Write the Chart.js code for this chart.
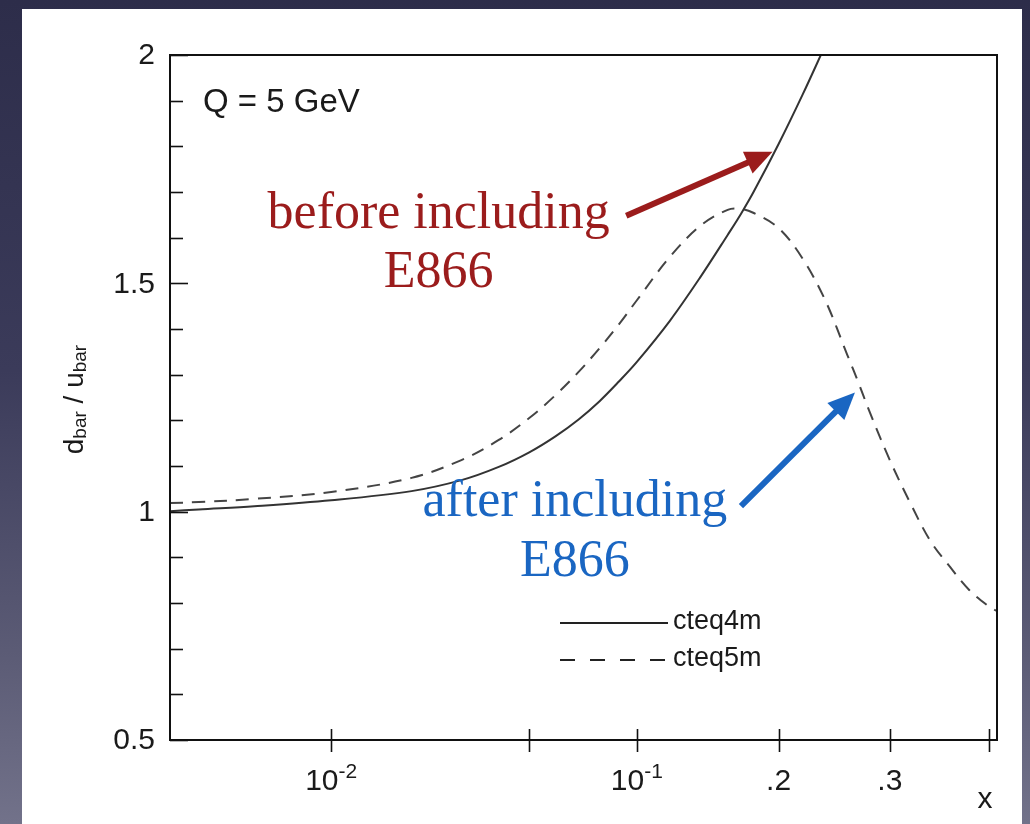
<!DOCTYPE html>
<html>
<head>
<meta charset="utf-8">
<script src="https://cdn.jsdelivr.net/npm/chart.js@4/dist/chart.umd.min.js"></script>
<style>
  html, body { margin: 0; padding: 0; }
  body {
    width: 1030px; height: 824px; overflow: hidden; position: relative;
    background: linear-gradient(180deg, #2d2d4a 0%, #3b3b5a 45%, #5c5c76 80%, #72728a 100%);
  }
  #panel { position: absolute; left: 22px; top: 9px; width: 1000px; height: 815px; background: #fff; }
  canvas { display: block; }
</style>
</head>
<body>
<div id="panel"><canvas id="ratio" width="1000" height="815"></canvas></div>
<script>
// d-bar / u-bar at Q = 5 GeV, two CTEQ fits
const x4m = [0.0023, 0.003, 0.005, 0.01, 0.02, 0.03, 0.04, 0.05, 0.06, 0.07, 0.08, 0.09, 0.1,
             0.12, 0.14, 0.16, 0.17, 0.18, 0.2, 0.22, 0.24];
const cteq4m = [1.001, 1.005, 1.012, 1.025, 1.045, 1.069, 1.098, 1.130, 1.165, 1.202, 1.242, 1.285, 1.328,
                1.418, 1.512, 1.606, 1.652, 1.701, 1.805, 1.912, 2.021];

const x5m = [0.0023, 0.003, 0.005, 0.01, 0.02, 0.03, 0.04, 0.05, 0.06, 0.07, 0.08, 0.09, 0.1,
             0.12, 0.14, 0.16, 0.17, 0.18, 0.2, 0.22, 0.24, 0.26, 0.27, 0.28, 0.3,
             0.32, 0.34, 0.36, 0.38, 0.4, 0.409];
const cteq5m = [1.019, 1.021, 1.028, 1.043, 1.074, 1.113, 1.157, 1.205, 1.255, 1.306, 1.358, 1.410, 1.463,
                1.558, 1.625, 1.661, 1.663, 1.654, 1.621, 1.555, 1.463, 1.343, 1.284, 1.223, 1.113,
                1.019, 0.936, 0.879, 0.828, 0.793, 0.782];

const xTicks = [0.01, 0.05, 0.1, 0.2, 0.3, 0.4];
const xTickLabels = ['10^-2', '', '10^-1', '.2', '.3', ''];
const yTicks = [0.5, 1, 1.5, 2];
const yTickLabels = ['0.5', '1', '1.5', '2'];

const INK = '#1a1a1a';
const SANS = '"Liberation Sans", Arial, sans-serif';
const SERIF = '"Liberation Serif", "Times New Roman", serif';

// x axis: log at small x, stretching towards linear at large x
const K = 2.79;
function warp(v) { return Math.log10(v) + K * v; }

class LogLinScale extends Chart.Scale {
  static id = 'loglin';
  static defaults = {};
  determineDataLimits() {
    this.min = this.options.min;
    this.max = this.options.max;
  }
  buildTicks() {
    return xTicks.map(v => ({ value: v }));
  }
  configure() {
    super.configure();
    this._w0 = warp(this.min);
    this._wr = warp(this.max) - this._w0;
  }
  getPixelForValue(v) {
    return this.getPixelForDecimal((warp(v) - this._w0) / this._wr);
  }
  getValueForPixel(p) {
    const d = this.getDecimalForPixel(p);
    let lo = this.min, hi = this.max;
    for (let i = 0; i < 50; i++) {
      const mid = (lo + hi) / 2;
      if ((warp(mid) - this._w0) / this._wr < d) lo = mid; else hi = mid;
    }
    return lo;
  }
  getLabelForValue(v) { return String(v); }
}
Chart.register(LogLinScale);

function pairs(xs, ys) { return xs.map((x, i) => ({ x: x, y: ys[i] })); }

// text and arrows, placed in data coordinates
const notes = [
  { text: 'before including', x: 0.025, y: 1.622, color: '#9b1c1c' },
  { text: 'E866', x: 0.025, y: 1.493, color: '#9b1c1c' },
  { text: 'after including', x: 0.0683, y: 0.99, color: '#1a66c2' },
  { text: 'E866', x: 0.0683, y: 0.859, color: '#1a66c2' }
];
const arrows = [
  { from: [0.094, 1.648], to: [0.195, 1.788], color: '#9b1c1c' },
  { from: [0.17, 1.012], to: [0.267, 1.261], color: '#1a66c2' }
];

function drawArrow(ctx, x0, y0, x1, y1, color) {
  const ang = Math.atan2(y1 - y0, x1 - x0);
  const headLen = 27, headHalf = 12;
  const bx = x1 - headLen * Math.cos(ang), by = y1 - headLen * Math.sin(ang);
  ctx.strokeStyle = color;
  ctx.fillStyle = color;
  ctx.lineWidth = 6;
  ctx.lineCap = 'butt';
  ctx.beginPath();
  ctx.moveTo(x0, y0);
  ctx.lineTo(bx + 2 * Math.cos(ang), by + 2 * Math.sin(ang));
  ctx.stroke();
  ctx.beginPath();
  ctx.moveTo(x1, y1);
  ctx.lineTo(bx + headHalf * Math.sin(ang), by - headHalf * Math.cos(ang));
  ctx.lineTo(bx - headHalf * Math.sin(ang), by + headHalf * Math.cos(ang));
  ctx.closePath();
  ctx.fill();
}

// frame, inward ticks, labels, legend and notes
const decorations = {
  id: 'decorations',
  afterDatasetsDraw(chart) {
    const { ctx, chartArea: a, scales: { x, y } } = chart;
    ctx.save();

    ctx.strokeStyle = '#111';
    ctx.lineWidth = 2;
    ctx.strokeRect(a.left, a.top, a.right - a.left, a.bottom - a.top);

    // y ticks every 0.1, longer on the half units
    ctx.lineWidth = 1.6;
    for (let i = 0; i <= 15; i++) {
      const py = Math.round(y.getPixelForValue(0.5 + i * 0.1)) + 0.5;
      const len = i % 5 === 0 ? 18 : 13;
      ctx.beginPath();
      ctx.moveTo(a.left, py);
      ctx.lineTo(a.left + len, py);
      ctx.stroke();
    }
    // x ticks straddle the axis
    xTicks.forEach(v => {
      const px = Math.round(x.getPixelForValue(v)) + 0.5;
      ctx.beginPath();
      ctx.moveTo(px, a.bottom - 11);
      ctx.lineTo(px, a.bottom + 12);
      ctx.stroke();
    });

    ctx.fillStyle = INK;
    ctx.font = '30px ' + SANS;
    ctx.textAlign = 'right';
    ctx.textBaseline = 'middle';
    yTicks.forEach((v, i) => {
      ctx.fillText(yTickLabels[i], a.left - 15, y.getPixelForValue(v) + 1);
    });

    ctx.textBaseline = 'alphabetic';
    xTicks.forEach((v, i) => {
      const lab = xTickLabels[i];
      if (!lab) return;
      const px = x.getPixelForValue(v);
      const base = a.bottom + 50;
      const parts = lab.split('^');
      ctx.font = '30px ' + SANS;
      const w0 = ctx.measureText(parts[0]).width;
      let w1 = 0;
      if (parts[1]) { ctx.font = '21px ' + SANS; w1 = ctx.measureText(parts[1]).width; }
      const left = px - (w0 + w1) / 2;
      ctx.textAlign = 'left';
      ctx.font = '30px ' + SANS;
      ctx.fillText(parts[0], left, base);
      if (parts[1]) {
        ctx.font = '21px ' + SANS;
        ctx.fillText(parts[1], left + w0, base - 12);
      }
    });
    ctx.font = '30px ' + SANS;
    ctx.textAlign = 'center';
    ctx.fillText('x', a.right - 12, a.bottom + 68);

    // y title: d_bar / u_bar
    ctx.save();
    ctx.translate(a.left - 95, (a.top + a.bottom) / 2 + 2);
    ctx.rotate(-Math.PI / 2);
    const big = '28px ' + SANS, small = '19px ' + SANS;
    const segs = [['d', big, 0], ['bar', small, 6], [' / ', big, 0], ['u', big, 0], ['bar', small, 6]];
    let total = 0;
    segs.forEach(s => { ctx.font = s[1]; total += ctx.measureText(s[0]).width; });
    let cx = -total / 2;
    ctx.textAlign = 'left';
    ctx.textBaseline = 'middle';
    segs.forEach(s => {
      ctx.font = s[1];
      ctx.fillText(s[0], cx, s[2]);
      cx += ctx.measureText(s[0]).width;
    });
    ctx.restore();

    ctx.font = '33px ' + SANS;
    ctx.textAlign = 'left';
    ctx.textBaseline = 'alphabetic';
    ctx.fillText('Q = 5 GeV', a.left + 33, a.top + 57);

    // legend
    const lx = a.right - 437, ly1 = a.top + 568, ly2 = a.top + 605;
    ctx.strokeStyle = '#222';
    ctx.lineWidth = 2;
    ctx.beginPath(); ctx.moveTo(lx, ly1); ctx.lineTo(lx + 108, ly1); ctx.stroke();
    ctx.setLineDash([15, 15]);
    ctx.beginPath(); ctx.moveTo(lx, ly2); ctx.lineTo(lx + 108, ly2); ctx.stroke();
    ctx.setLineDash([]);
    ctx.font = '27px ' + SANS;
    ctx.textBaseline = 'middle';
    ctx.fillText('cteq4m', lx + 113, ly1 - 1);
    ctx.fillText('cteq5m', lx + 113, ly2 - 1);

    // annotations
    ctx.textAlign = 'center';
    ctx.textBaseline = 'alphabetic';
    ctx.font = '52px ' + SERIF;
    notes.forEach(n => {
      ctx.fillStyle = n.color;
      ctx.fillText(n.text, x.getPixelForValue(n.x), y.getPixelForValue(n.y));
    });
    arrows.forEach(ar => {
      drawArrow(ctx,
        x.getPixelForValue(ar.from[0]), y.getPixelForValue(ar.from[1]),
        x.getPixelForValue(ar.to[0]), y.getPixelForValue(ar.to[1]), ar.color);
    });

    ctx.restore();
  }
};

new Chart(document.getElementById('ratio'), {
  type: 'line',
  data: {
    datasets: [{
      label: 'cteq4m',
      data: pairs(x4m, cteq4m),
      borderColor: '#333',
      borderWidth: 2,
      pointRadius: 0,
      tension: 0.35,
      fill: false
    }, {
      label: 'cteq5m',
      data: pairs(x5m, cteq5m),
      borderColor: '#444',
      borderWidth: 2,
      borderDash: [13, 9],
      pointRadius: 0,
      tension: 0.35,
      fill: false
    }]
  },
  options: {
    responsive: false,
    animation: false,
    devicePixelRatio: 1,
    events: [],
    layout: { padding: { left: 148, top: 46, right: 25, bottom: 84 } },
    plugins: { legend: { display: false }, tooltip: { enabled: false } },
    scales: {
      x: { type: 'loglin', min: 0.0023, max: 0.409, display: false },
      y: { type: 'linear', min: 0.5, max: 2, display: false }
    }
  },
  plugins: [decorations]
});
</script>
</body>
</html>
